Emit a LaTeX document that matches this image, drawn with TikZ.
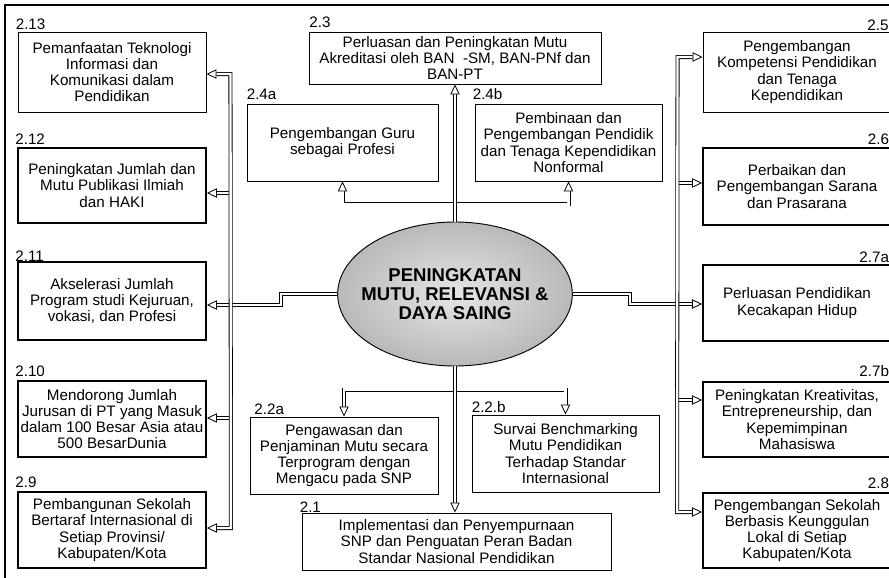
\documentclass[tikz,border=0pt]{standalone}
\usepackage{fontspec}
\setmainfont{Liberation Sans}
\usetikzlibrary{positioning}
\usetikzlibrary{calc}
\usetikzlibrary{shapes.geometric, arrows.meta}
\pgfdeclareradialshading{orb}{\pgfpoint{0bp}{0bp}}{color(0bp)=(black!10); color(50bp)=(black!45)}

\begin{document}
\begin{tikzpicture} [x=0.75pt, y=-0.75pt,
    box/.style={draw, rectangle, line width=0.7pt, align=center, inner sep=2pt, font=\fontsize{11.4}{12.2}\selectfont},
    heavy/.style={line width=1.4pt},
    tag/.style={inner sep=0pt, font=\fontsize{11.4}{12.2}\selectfont},
    pipe/.style={double, double distance=1.8pt, line width=0.6pt},
    feed/.style={pipe, -{Triangle[fill=white, length=7.5pt, width=7pt]}},
    twin/.style={pipe, {Triangle[fill=white, length=7.5pt, width=7pt]}-{Triangle[fill=white, length=7.5pt, width=7pt]}}]
    % Frame of the page, cut at the right and at the bottom
    \useasboundingbox (0,0) rectangle (889,578);
    \clip (0,0) rectangle (889,578);
    \draw[line width=0.8pt] (5,5) rectangle (905,600);

    % Core goal in the middle
    \node (PMR) [ellipse, draw, line width=0.7pt, shading=orb, minimum width=176pt, minimum height=108pt] at (455,294) {};
    \node (PMRtext) [align=center, font=\bfseries\fontsize{13.9}{14.2}\selectfont] at (PMR) {PENINGKATAN\\MUTU, RELEVANSI \&\\DAYA SAING};

    % Left column
    \node (B213) [box, minimum width=141pt, minimum height=60pt] at (112,72) {Pemanfaatan Teknologi\\Informasi dan\\Komunikasi dalam\\Pendidikan};
    \node (B212) [box, heavy, minimum width=141pt, minimum height=56.25pt] at (112,185.5) {Peningkatan Jumlah dan\\Mutu Publikasi Ilmiah\\dan HAKI};
    \node (B211) [box, heavy, minimum width=141pt, minimum height=58.5pt] at (112,301) {Akselerasi Jumlah\\Program studi Kejuruan,\\vokasi, dan Profesi};
    \node (B210) [box, heavy, minimum width=141pt, minimum height=57pt] at (112,419) {Mendorong Jumlah\\Jurusan di PT yang Masuk\\dalam 100 Besar Asia atau\\500 BesarDunia};
    \node (B29) [box, heavy, minimum width=141pt, minimum height=57pt] at (112,530) {Pembangunan Sekolah\\Bertaraf Internasional di\\Setiap Provinsi/\\Kabupaten/Kota};

    % Right column
    \node (B25) [box, minimum width=141pt, minimum height=60pt] at (797,72) {Pengembangan\\Kompetensi Pendidikan\\dan Tenaga\\Kependidikan};
    \node (B26) [box, heavy, minimum width=141pt, minimum height=57.75pt] at (797,186.5) {Perbaikan dan\\Pengembangan Sarana\\dan Prasarana};
    \node (B27a) [box, heavy, minimum width=141pt, minimum height=57pt] at (797,303) {Perluasan Pendidikan\\Kecakapan Hidup};
    \node (B27b) [box, heavy, minimum width=141pt, minimum height=56.25pt] at (797,419.5) {Peningkatan Kreativitas,\\Entrepreneurship, dan\\Kepemimpinan\\Mahasiswa};
    \node (B28) [box, heavy, minimum width=141pt, minimum height=56.25pt] at (797,530.5) {Pengembangan Sekolah\\Berbasis Keunggulan\\Lokal di Setiap\\Kabupaten/Kota};

    % Top and bottom
    \node (B23) [box, minimum width=219pt, minimum height=39pt] at (455,58) {Perluasan dan Peningkatan Mutu\\Akreditasi oleh BAN~~-SM, BAN-PNf dan\\BAN-PT};
    \node (B24a) [box, minimum width=143.25pt, minimum height=57.75pt] at (342.5,142.5) {Pengembangan Guru\\sebagai Profesi};
    \node (B24b) [box, minimum width=140.25pt, minimum height=57.75pt] at (568.5,142.5) {Pembinaan dan\\Pengembangan Pendidik\\dan Tenaga Kependidikan\\Nonformal};
    \node (B22a) [box, minimum width=141pt, minimum height=57.75pt] at (344,455.5) {Pengawasan dan\\Penjaminan Mutu secara\\Terprogram dengan\\Mengacu pada SNP};
    \node (B22b) [box, minimum width=140.25pt, minimum height=57.75pt] at (565.5,453.5) {Survai Benchmarking\\Mutu Pendidikan\\Terhadap Standar\\Internasional};
    \node (B21) [box, minimum width=231.75pt, minimum height=42.75pt] at (456.5,541.5) {Implementasi dan Penyempurnaan\\SNP dan Penguatan Peran Badan\\Standar Nasional Pendidikan};

    % Numbers over the boxes
    \node (T213) [tag, above right=1pt and -1.5pt of B213.north west] {2.13};
    \node (T212) [tag, above right=1.5pt and -1.5pt of B212.north west] {2.12};
    \node (T211) [tag, above right=-0.5pt and -1.5pt of B211.north west] {2.11};
    \node (T210) [tag, above right=2pt and -1.5pt of B210.north west] {2.10};
    \node (T29) [tag, above right=2pt and -1.5pt of B29.north west] {2.9};
    \node (T25) [tag, above left=0.5pt and 2pt of B25.north east] {2.5};
    \node (T26) [tag, above left=1.5pt and 2pt of B26.north east] {2.6};
    \node (T27a) [tag, above left=1pt and 2pt of B27a.north east] {2.7a};
    \node (T27b) [tag, above left=3pt and 2pt of B27b.north east] {2.7b};
    \node (T28) [tag, above left=2.5pt and 2pt of B28.north east] {2.8};
    \node (T23) [tag, above right=2.5pt and 0.5pt of B23.north west] {2.3};
    \node (T24a) [tag, above right=2.5pt and 0pt of B24a.north west] {2.4a};
    \node (T24b) [tag, above right=2.5pt and -1.5pt of B24b.north west] {2.4b};
    \node (T22a) [tag, above right=1pt and 3.5pt of B22a.north west] {2.2a};
    \node (T22b) [tag, above right=1.5pt and 0pt of B22b.north west] {2.2.b};
    \node (T21) [tag, above right=-0.5pt and -1.5pt of B21.north west] {2.1};

    % Branches above and below the core
    \draw[twin] (B24a.south) -- ++(0,23) -| (B24b.south);
    \draw[twin] (B22a.north) -- ++(0,-27) -| (B22b.north);
    \draw[feed] (PMR.north) -- (PMR.north |- B23.south);
    \draw[feed] (PMR.south) -- (PMR.south |- B21.north);

    % Left bus
    \draw[feed] (PMR.west) -- ++(-56,0) |- ($(B211.east)+(0,4)$);
    \draw[feed] ($(B212.east)+(24,7.5)$) -- ($(B212.east)+(0,7.5)$);
    \draw[feed] ($(B210.east)+(24,-1)$) -- ($(B210.east)+(0,-1)$);
    \draw[twin] ($(B213.east)+(0,2)$) -- ($(B213.east)+(24,2)$) -- ($(B29.east)+(24,-2)$) -- ($(B29.east)+(0,-2)$);

    % Right bus
    \draw[feed] (PMR.east) -- ++(57,0) |- ($(B27a.west)+(0,1)$);
    \draw[feed] ($(B26.west)+(-25,-3.5)$) -- ($(B26.west)+(0,-3.5)$);
    \draw[feed] ($(B27b.west)+(-25,-19.5)$) -- ($(B27b.west)+(0,-19.5)$);
    \draw[twin] ($(B25.west)+(0,-15)$) -- ($(B25.west)+(-25,-15)$) -- ($(B28.west)+(-25,-18.5)$) -- ($(B28.west)+(0,-18.5)$);
\end{tikzpicture}
\end{document}
